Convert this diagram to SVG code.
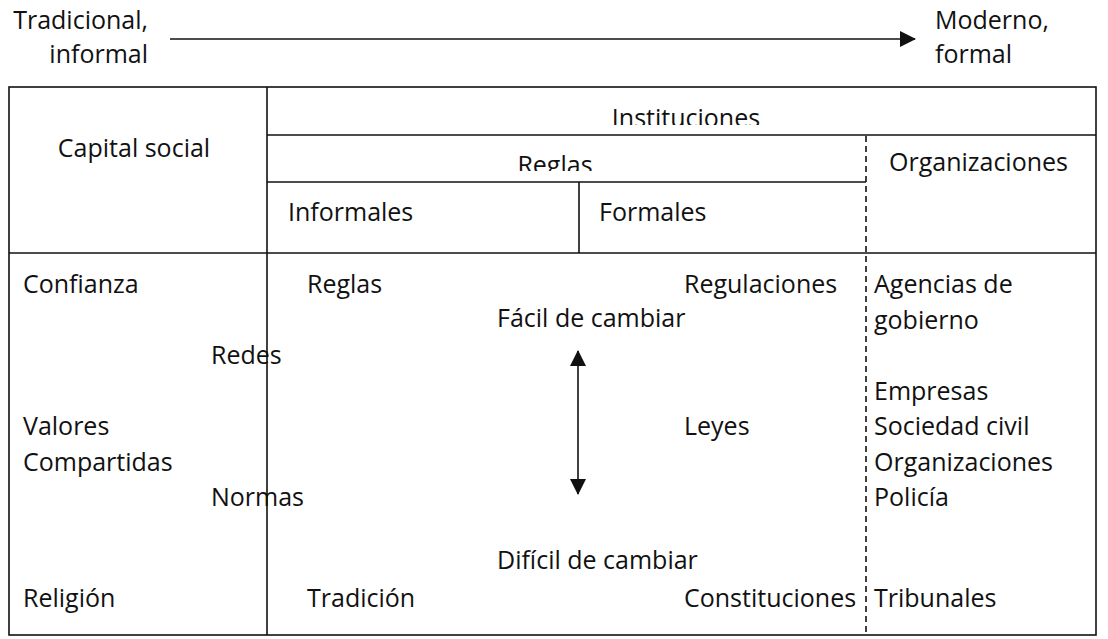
<svg xmlns="http://www.w3.org/2000/svg" width="1108" height="639" viewBox="0 0 1108 639">
<style>
text{font-family:"Open Sans","Liberation Sans",sans-serif;font-size:25px;fill:#111}
.ln{stroke:#111;stroke-width:1.6;fill:none}
.dash{stroke:#111;stroke-width:1.6;stroke-dasharray:6 4;fill:none}
.mid{text-anchor:middle}
.end{text-anchor:end}
</style>
<defs>
<marker id="ah2" viewBox="0 0 16 16" refX="15" refY="8" markerWidth="16" markerHeight="16" markerUnits="userSpaceOnUse" orient="auto-start-reverse"><path d="M0,0 L16,8 L0,16 z" fill="#111"/></marker>
<clipPath id="c1"><rect x="267" y="87" width="829" height="38"/></clipPath>
<clipPath id="c2"><rect x="267" y="135" width="599" height="36"/></clipPath>
</defs>
<g id="scale">
<text class="end" x="148" y="29">Tradicional,</text>
<text class="end" x="148" y="63">informal</text>
<text x="935" y="29">Moderno,</text>
<text x="935" y="63">formal</text>
</g>
<g id="connectors">
<line class="ln" x1="170" y1="39" x2="915" y2="39" marker-end="url(#ah2)"/>
<line class="ln" x1="578" y1="351" x2="578" y2="494" marker-start="url(#ah2)" marker-end="url(#ah2)"/>
</g>
<g id="table">
<rect class="ln" x="9" y="87" width="1087" height="548"/>
<line class="ln" x1="267" y1="87" x2="267" y2="635"/>
<line class="ln" x1="267" y1="135" x2="1096" y2="135"/>
<line class="ln" x1="267" y1="182" x2="866" y2="182"/>
<line class="ln" x1="579" y1="182" x2="579" y2="253"/>
<line class="ln" x1="9" y1="253" x2="1096" y2="253"/>
<line class="dash" x1="866" y1="136" x2="866" y2="634"/>
</g>
<g id="header">
<text class="mid" x="134" y="157">Capital social</text>
<text class="mid" x="686" y="127" clip-path="url(#c1)">Instituciones</text>
<text class="mid" x="555" y="174" clip-path="url(#c2)">Reglas</text>
<text x="889" y="171">Organizaciones</text>
<text x="288" y="221">Informales</text>
<text x="599" y="221">Formales</text>
</g>
<g id="capital">
<text x="23" y="293">Confianza</text>
<text x="211" y="364">Redes</text>
<text x="23" y="435">Valores</text>
<text x="23" y="471">Compartidas</text>
<text x="211" y="506">Normas</text>
<text x="23" y="607">Religión</text>
</g>
<g id="reglas">
<text x="307" y="293">Reglas</text>
<text x="684" y="293">Regulaciones</text>
<text x="497" y="327">Fácil de cambiar</text>
<text x="684" y="435">Leyes</text>
<text x="497" y="569">Difícil de cambiar</text>
<text x="307" y="607">Tradición</text>
<text x="684" y="607">Constituciones</text>
</g>
<g id="organizaciones">
<text x="874" y="293">Agencias de</text>
<text x="874" y="329">gobierno</text>
<text x="874" y="400">Empresas</text>
<text x="874" y="435">Sociedad civil</text>
<text x="874" y="471">Organizaciones</text>
<text x="874" y="506">Policía</text>
<text x="874" y="607">Tribunales</text>
</g>
</svg>
